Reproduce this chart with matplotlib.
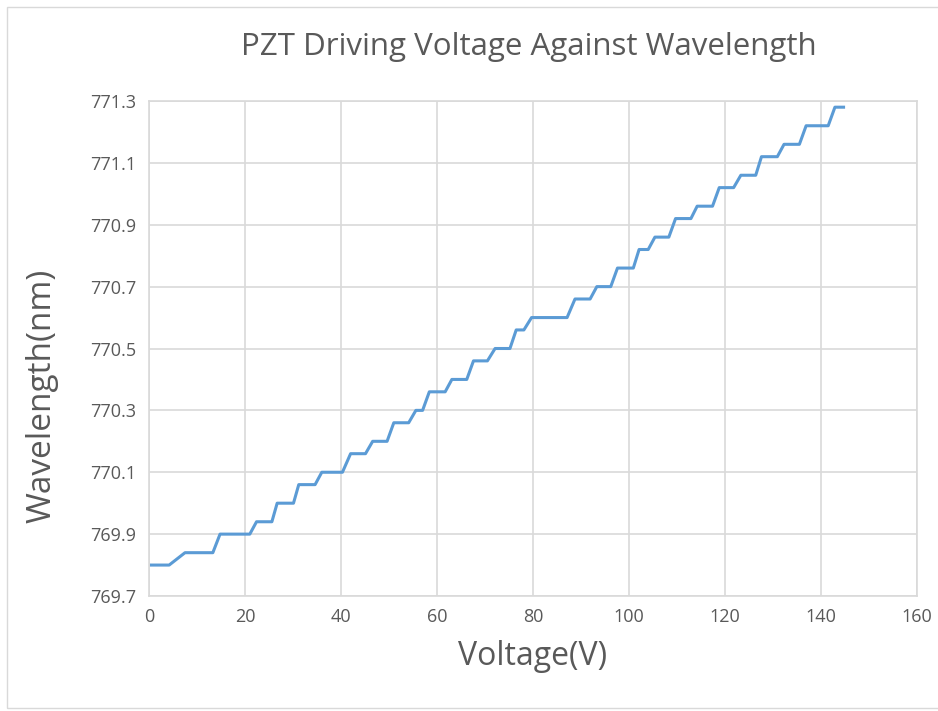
import matplotlib.pyplot as plt
from matplotlib.patches import Rectangle

# step corners: (voltage, wavelength)
voltage = [0.5, 4.2, 7.5, 13.3, 14.8, 21.0, 22.4, 25.6, 26.7, 30.1,
           31.2, 34.6, 36.0, 40.3, 42.0, 45.1, 46.6, 49.6, 51.0, 54.1,
           55.6, 57.0, 58.4, 61.7, 63.1, 66.2, 67.6, 70.5, 72.1, 75.2,
           76.5, 78.1, 79.7, 87.1, 88.75, 91.9, 93.3, 96.2, 97.6, 100.9,
           102.1, 104.0, 105.4, 108.3, 109.7, 112.9, 114.2, 117.4, 118.8, 121.8,
           123.3, 126.4, 127.6, 130.9, 132.3, 135.5, 136.9, 141.5, 142.9, 144.7]
wavelength = [769.80, 769.80, 769.84, 769.84, 769.90, 769.90, 769.94, 769.94, 770.00, 770.00,
              770.06, 770.06, 770.10, 770.10, 770.16, 770.16, 770.20, 770.20, 770.26, 770.26,
              770.30, 770.30, 770.36, 770.36, 770.40, 770.40, 770.46, 770.46, 770.50, 770.50,
              770.56, 770.56, 770.60, 770.60, 770.66, 770.66, 770.70, 770.70, 770.76, 770.76,
              770.82, 770.82, 770.86, 770.86, 770.92, 770.92, 770.96, 770.96, 771.02, 771.02,
              771.06, 771.06, 771.12, 771.12, 771.16, 771.16, 771.22, 771.22, 771.28, 771.28]

x_ticks = [0, 20, 40, 60, 80, 100, 120, 140, 160]
y_ticks = [769.7, 769.9, 770.1, 770.3, 770.5, 770.7, 770.9, 771.1, 771.3]

plt.rcParams['font.family'] = ['Open Sans', 'DejaVu Sans']
text_col = '#595959'
grid_col = '#d9d9d9'

fig = plt.figure(figsize=(9.38, 7.11), dpi=100)
fig.patches.append(Rectangle((7 / 938, 1 - 708 / 711), 940 / 938, 701 / 711,
                             transform=fig.transFigure, fill=False,
                             edgecolor=grid_col, linewidth=1))

ax = fig.add_axes([149 / 938, 1 - 596 / 711, 768 / 938, 495 / 711])
ax.plot(voltage, wavelength, color='#5b9bd5', linewidth=2.2)

ax.set_xlim(0, 160)
ax.set_ylim(769.7, 771.3)
ax.set_xticks(x_ticks)
ax.set_yticks(y_ticks)
ax.set_yticklabels(['%.1f' % v for v in y_ticks])
ax.grid(True, color=grid_col, linewidth=1.2)
ax.set_axisbelow(True)
ax.tick_params(length=0, labelsize=13, labelcolor=text_col, pad=9)
for s in ax.spines.values():
    s.set_color(grid_col)
    s.set_linewidth(1.2)

fig.text(529 / 938, 1 - 47 / 711, 'PZT Driving Voltage Against Wavelength',
         ha='center', va='center', fontsize=22.5, color=text_col)
ax.set_xlabel('Voltage(V)', fontsize=23, color=text_col, labelpad=10)
ax.set_ylabel('Wavelength(nm)', fontsize=24, color=text_col, va='center')
ax.yaxis.set_label_coords(-0.139, 0.405)

plt.savefig('out.png', dpi=100)
